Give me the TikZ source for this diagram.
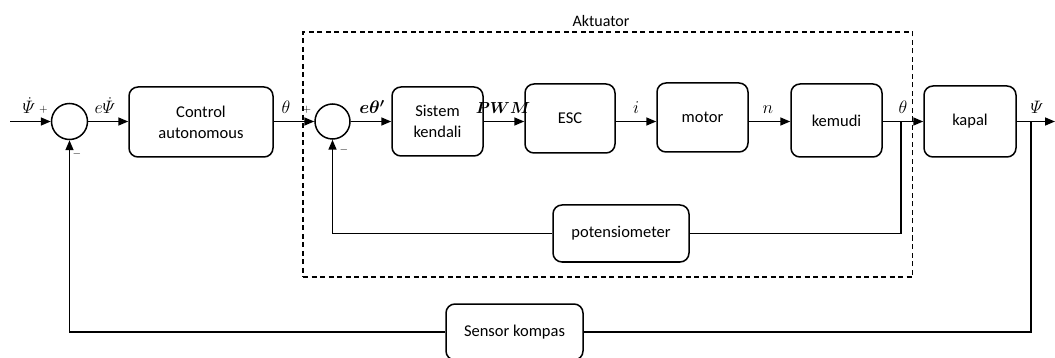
\RequirePackage{fix-cm}
\documentclass[tikz,border=0pt]{standalone}
\usepackage{amsmath}
\usepackage{fontspec}
\setmainfont{Carlito}
\usetikzlibrary{arrows.meta}
\begin{document}
\begin{tikzpicture}[x=1pt,y=-1pt,
  blk/.style={draw,line width=1.5pt,rounded corners=9pt,align=center,inner sep=0pt,
    font=\fontsize{16.5}{21}\selectfont},
  sumc/.style={draw,circle,line width=1.5pt,minimum size=36pt,inner sep=0pt},
  ln/.style={line width=1.5pt},
  arr/.style={ln,-{Triangle[length=10pt,width=8pt]}},
  lbl/.style={font=\fontsize{18}{20}\selectfont,anchor=base,inner sep=0pt},
  sgn/.style={font=\fontsize{11}{12}\selectfont,inner sep=0pt}]

\useasboundingbox (0,0) rectangle (1055,358);

% dashed actuator frame
\node[draw,line width=1.3pt,dash pattern=on 5pt off 3.5pt,minimum width=609.5pt,minimum height=245pt,inner sep=0pt] (akt) at (607.75,154.5) {};
\node[font=\fontsize{16}{19}\selectfont] (aktlbl) at (601,21) {Aktuator};

% summing junctions
\node[sumc] (s1) at (69.5,121.5) {};
\node[sumc,minimum size=35pt] (s2) at (332.5,121.5) {};

% blocks
\node[blk,minimum width=144pt,minimum height=70pt] (ctrl) at (201,122) {Control\\autonomous};
\node[blk,minimum width=91pt,minimum height=69pt] (sk) at (437.5,121.5) {Sistem\\kendali};
\node[blk,minimum width=90pt,minimum height=69pt] (esc) at (570,118.5) {ESC};
\node[blk,minimum width=91pt,minimum height=69pt] (mot) at (702.5,117.5) {motor};
\node[blk,minimum width=91pt,minimum height=73pt] (kem) at (836.5,120.5) {kemudi};
\node[blk,minimum width=92pt,minimum height=71pt] (kap) at (970,121.5) {kapal};
\node[blk,minimum width=136pt,minimum height=57pt] (pot) at (621,233.5) {potensiometer};
\node[blk,minimum width=137pt,minimum height=56pt] (sen) at (514.5,332) {Sensor kompas};

% free ends and branch points
\coordinate (in) at (10,121.5);
\coordinate (out) at (1055,121.5);
\coordinate (thB) at (901,121.5);
\coordinate (psiB) at (1031,121.5);

% forward path
\draw[arr] (in) -- (s1.west);
\draw[arr] (s1.east) -- (ctrl.west |- s1.east);
\draw[arr] (ctrl.east |- s2.west) -- (s2.west);
\draw[arr] (s2.east) -- (sk.west |- s2.east);
\draw[arr] (sk.east |- s2.east) -- (esc.west |- s2.east);
\draw[arr] (esc.east |- s2.east) -- (mot.west |- s2.east);
\draw[arr] (mot.east |- s2.east) -- (kem.west |- s2.east);
\draw[arr] (kem.east |- s2.east) -- (kap.west |- s2.east);
\draw[arr] (kap.east |- s2.east) -- (out);

% inner feedback (potensiometer)
\draw[ln] (thB) |- (pot.east);
\draw[arr] (pot.west) -| (s2.south);

% outer feedback (sensor kompas)
\draw[ln] (psiB) |- (sen.east);
\draw[arr] (sen.west) -| (s1.south);

% signal labels
\node[lbl] (l1) at (29,114) {$\dot{\varPsi}$};
\node[sgn] (p1) at (43.5,110) {$+$};
\node[sgn] (m1) at (77,154) {$-$};
\node[lbl] (l2) at (105,114) {$e\dot{\varPsi}$};
\node[lbl] (l3) at (286,114) {$\theta$};
\node[sgn] (p2) at (307,110) {$+$};
\node[sgn] (m2) at (344,150) {$-$};
\node[lbl] (l4) at (372,114) {$\boldsymbol{e\theta'}$};
\node[lbl,font=\fontsize{16}{18}\selectfont] (l5) at (503,114) {$\boldsymbol{PWM}$};
\node[lbl] (l6) at (636,114) {$i$};
\node[lbl] (l7) at (768,114) {$n$};
\node[lbl] (l8) at (903,114) {$\theta$};
\node[lbl] (l9) at (1037,114) {$\varPsi$};
\end{tikzpicture}
\end{document}
